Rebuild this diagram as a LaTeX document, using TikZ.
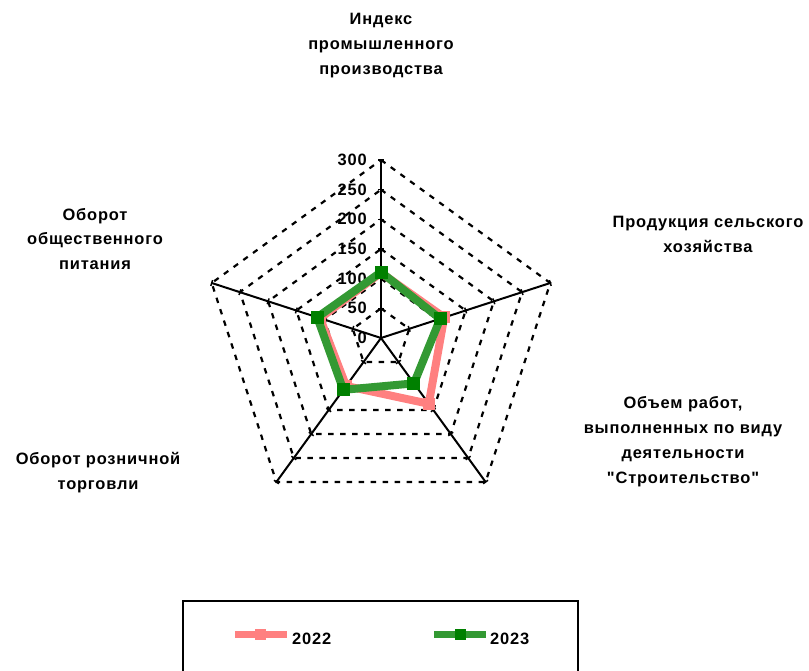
\documentclass[tikz,border=0pt]{standalone}
\usepackage{fontspec}
\setmainfont{Liberation Sans}[LetterSpace=5, Ligatures=TeXOff]
\usetikzlibrary{positioning}
\usetikzlibrary{calc}
\definecolor{sPink}{HTML}{FF8080}
\definecolor{sGreen}{HTML}{339933}
\definecolor{sDark}{HTML}{008000}

\begin{document}
\begin{tikzpicture}[x=1bp, y=1bp, font=\fontsize{16.5}{25}\selectfont\bfseries,
  grid/.style={line width=2.2bp, dash pattern=on 5.5bp off 6.5bp},
  axis/.style={line width=2bp},
  series/.style={line width=8bp, line join=round},
  pinkmark/.style={fill=sPink, minimum size=12bp, inner sep=0},
  greenmark/.style={fill=sDark, minimum size=13bp, inner sep=0},
  cat/.style={align=center, inner sep=0}]
  \useasboundingbox (-381,-333) rectangle (428,338);
  \def\rr{0.5933}

  \coordinate (c) at (0,0);

  % grid
  \foreach \v in {50,100,...,300}
    \draw[grid] (90:\v*\rr) -- (18:\v*\rr) -- (-54:\v*\rr) -- (-126:\v*\rr) -- (162:\v*\rr) -- cycle;

  \foreach \a/\n in {90/ind,18/agr,-54/con,-126/ret,162/cat}{
    \coordinate (\n) at (\a:300*\rr);
    \draw[axis] (c) -- (\n);
    \foreach \k in {1,...,6}
      \draw[line width=1.5bp] ($(c)!\k/6!(\n)$) ++(\a+90:3) -- ++(\a-90:6);
  }

  \foreach \v in {0,50,...,300}
    \node[anchor=east, inner sep=0] (tick\v) at (-14,\v*\rr) {\v};

  % 2022
  \coordinate (p1) at (90:110*\rr);
  \coordinate (p2) at (18:112*\rr);
  \coordinate (p3) at (-54:137*\rr);
  \coordinate (p4) at (-126:100*\rr);
  \coordinate (p5) at (162:108*\rr);
  \draw[series, sPink] (p1) -- (p2) -- (p3) -- (p4) -- (p5) -- cycle;
  \foreach \i in {1,...,5} \node[pinkmark] (pm\i) at (p\i) {};

  % 2023
  \coordinate (g1) at (90:111*\rr);
  \coordinate (g2) at (18:105*\rr);
  \coordinate (g3) at (-54:94.5*\rr);
  \coordinate (g4) at (-126:108*\rr);
  \coordinate (g5) at (162:113*\rr);
  \draw[series, sGreen] (g1) -- (g2) -- (g3) -- (g4) -- (g5) -- cycle;
  \foreach \i in {1,...,5} \node[greenmark] (gm\i) at (g\i) {};

  \node[cat] (lind) at (0,292.5) {Индекс\\промышленного\\производства};
  \node[cat] (lagr) at (327,103.5) {Продукция сельского\\хозяйства};
  \node[cat] (lcon) at (302,-103.5) {Объем работ,\\выполненных по виду\\деятельности\\"Строительство"};
  \node[cat] (lret) at (-283,-134.5) {Оборот розничной\\торговли};
  \node[cat] (lcat) at (-286,99) {Оборот\\общественного\\питания};

  % legend
  \draw[line width=2bp] (-198,-345) |- (197,-263) -- (197,-345);
  \node[anchor=base west, inner sep=0] (leg22) at (-89,-306) {2022};
  \node[anchor=base west, inner sep=0] (leg23) at (109,-306) {2023};
  \draw[line width=7bp, sPink] (-146,-296.5) -- (-94,-296.5) node[midway, pinkmark, minimum size=11bp] (lm22) {};
  \draw[line width=7bp, sGreen] (53,-296.5) -- (105,-296.5) node[midway, greenmark, minimum size=11bp] (lm23) {};
\end{tikzpicture}
\end{document}
